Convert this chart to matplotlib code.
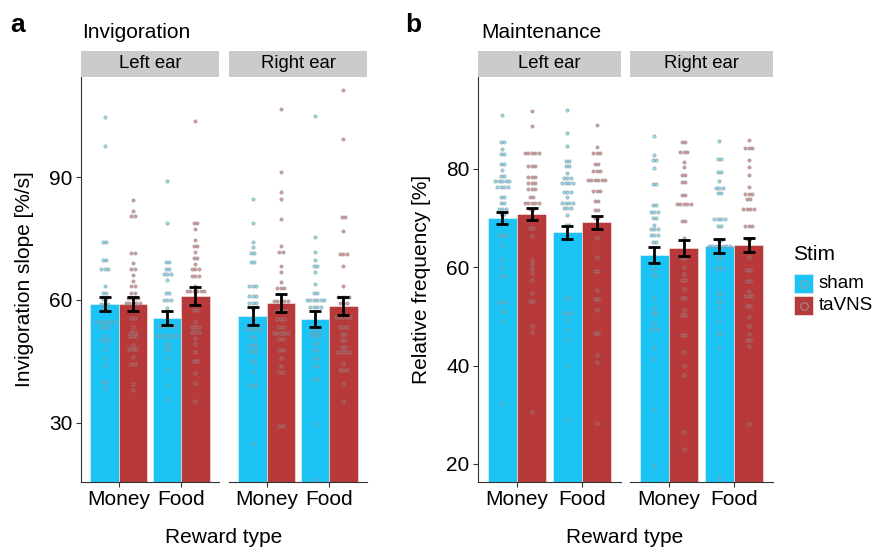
import matplotlib
matplotlib.use("Agg")
import matplotlib.pyplot as plt
from matplotlib.patches import Rectangle
from matplotlib.lines import Line2D
from matplotlib.colors import to_rgba

plt.rcParams["font.family"] = ["Liberation Sans", "DejaVu Sans"]

# ── Data ───────────────────────────────────────────────────────────────────
REWARDS = ["Money", "Food"]
EARS = ["Left ear", "Right ear"]
STIMS = ["sham", "taVNS"]

# group order within an ear: Money-sham, Money-taVNS, Food-sham, Food-taVNS
INV_MEAN = [[59.0, 59.0, 55.5, 61.0], [56.1, 59.2, 55.4, 58.5]]
INV_SE = [[1.8, 1.8, 1.7, 2.1], [2.2, 2.25, 2.0, 2.2]]
MAINT_MEAN = [[70.0, 70.9, 67.1, 69.15], [62.5, 63.9, 64.3, 64.5]]
MAINT_SE = [[1.2, 1.2, 1.35, 1.35], [1.6, 1.6, 1.35, 1.45]]

# dot-plot bins: (value, number of participants in that bin)
INV_L_MONEY_SHAM = [(104.6, 1), (97.5, 1), (74.1, 2), (69.7, 2), (67.6, 3), (63.3, 1),
                    (61.8, 2), (60.2, 2), (59.0, 3), (58.0, 2), (54.6, 6), (53.3, 3),
                    (51.2, 1), (50.2, 3), (48.0, 1), (45.9, 1), (44.0, 1), (39.9, 2), (38.5, 1)]
INV_L_MONEY_TAVNS = [(84.5, 1), (81.7, 1), (80.5, 2), (71.5, 2), (69.1, 1), (67.6, 2),
                     (66.0, 1), (64.6, 1), (63.3, 2), (61.8, 2), (60.4, 4), (59.3, 5),
                     (55.6, 2), (53.3, 1), (52.2, 2), (51.1, 3), (49.0, 1), (48.0, 3),
                     (46.2, 1), (44.5, 2), (39.5, 1), (38.0, 1)]
INV_L_FOOD_SHAM = [(89.0, 1), (78.9, 1), (69.3, 2), (67.5, 2), (66.3, 3), (64.8, 1),
                   (61.8, 2), (59.9, 3), (58.1, 1), (53.7, 6), (51.1, 7), (49.2, 2),
                   (48.0, 2), (46.2, 1), (43.0, 1), (39.2, 1), (35.8, 1)]
INV_L_FOOD_TAVNS = [(103.7, 1), (78.9, 2), (77.4, 1), (74.6, 1), (73.2, 2), (71.6, 1),
                    (70.2, 2), (68.9, 1), (67.6, 3), (65.9, 3), (63.3, 1), (62.2, 6),
                    (57.6, 2), (54.6, 1), (53.5, 3), (52.1, 3), (50.7, 1), (49.2, 1),
                    (47.4, 1), (45.1, 2), (42.1, 1), (39.7, 1), (35.4, 1)]
INV_R_MONEY_SHAM = [(84.6, 1), (78.9, 1), (74.2, 1), (72.9, 1), (71.5, 2), (69.3, 2),
                    (63.3, 3), (60.9, 3), (59.3, 3), (57.9, 1), (52.9, 5), (50.9, 2),
                    (49.0, 3), (47.6, 3), (45.0, 2), (42.8, 1), (39.2, 3), (25.2, 1)]
INV_R_MONEY_TAVNS = [(106.6, 1), (91.2, 1), (86.3, 1), (84.6, 1), (79.7, 1), (73.2, 1),
                     (71.6, 2), (68.2, 1), (66.8, 1), (64.4, 1), (63.0, 3), (59.8, 5),
                     (57.4, 4), (55.3, 3), (53.4, 2), (52.0, 5), (50.4, 2), (47.8, 2),
                     (45.9, 1), (43.9, 1), (42.5, 2), (29.3, 2)]
INV_R_FOOD_SHAM = [(105.0, 1), (75.4, 1), (71.7, 1), (69.8, 1), (68.4, 2), (66.9, 1),
                   (64.0, 1), (61.6, 2), (59.9, 6), (58.2, 4), (53.5, 2), (52.2, 3),
                   (51.1, 3), (49.4, 2), (47.7, 2), (45.8, 2), (43.9, 2), (40.8, 2),
                   (29.8, 1), (16.1, 1)]
INV_R_FOOD_TAVNS = [(111.3, 1), (99.2, 1), (80.2, 2), (76.8, 1), (71.1, 3), (68.4, 1),
                    (63.3, 1), (60.7, 4), (59.3, 3), (55.8, 5), (53.3, 3), (51.7, 2),
                    (50.3, 2), (48.6, 2), (47.3, 4), (44.4, 1), (42.9, 3), (39.4, 1), (35.4, 1)]

MAINT_L_MONEY_SHAM = [(90.9, 1), (85.4, 2), (84.1, 1), (83.1, 2), (81.0, 2), (79.8, 1),
                      (78.6, 2), (77.5, 5), (76.4, 4), (74.2, 2), (73.0, 2), (71.9, 3),
                      (70.8, 2), (66.5, 3), (64.6, 1), (61.7, 1), (59.8, 1), (58.3, 2),
                      (52.9, 3), (51.0, 2), (49.1, 1), (32.2, 1)]
MAINT_L_MONEY_TAVNS = [(91.8, 1), (88.8, 1), (83.3, 5), (80.6, 3), (78.4, 3), (77.1, 3),
                       (75.9, 3), (74.2, 2), (73.1, 5), (71.9, 2), (68.0, 2), (66.3, 1),
                       (61.5, 1), (60.6, 1), (59.7, 1), (58.9, 1), (57.4, 1), (54.7, 1),
                       (53.1, 2), (48.1, 1), (46.8, 1), (30.5, 1)]
MAINT_L_FOOD_SHAM = [(92.0, 1), (87.3, 1), (84.6, 1), (81.7, 2), (80.5, 2), (79.2, 1),
                     (78.2, 3), (77.1, 4), (75.3, 3), (74.2, 1), (73.1, 4), (72.0, 3),
                     (70.6, 1), (68.5, 2), (53.7, 2), (50.6, 3), (49.2, 1), (47.2, 1),
                     (45.3, 1), (40.0, 1), (28.9, 1)]
MAINT_L_FOOD_TAVNS = [(88.9, 1), (84.5, 1), (83.3, 3), (81.1, 2), (79.5, 3), (77.8, 6),
                      (75.6, 3), (73.4, 2), (71.7, 2), (70.1, 2), (65.9, 1), (62.1, 1),
                      (59.2, 2), (55.3, 1), (53.5, 2), (51.2, 1), (46.6, 2), (42.1, 1),
                      (40.8, 1), (28.4, 1)]
MAINT_R_MONEY_SHAM = [(86.6, 1), (82.8, 1), (81.8, 2), (80.1, 1), (76.9, 2), (72.7, 2),
                      (71.3, 3), (70.0, 2), (68.6, 1), (67.7, 3), (66.6, 3), (65.1, 2),
                      (59.7, 1), (58.5, 2), (53.8, 1), (51.6, 1), (50.6, 2), (48.7, 1),
                      (47.4, 3), (43.7, 1), (41.3, 1), (31.2, 1), (19.6, 1)]
MAINT_R_MONEY_TAVNS = [(85.4, 2), (83.4, 3), (81.4, 1), (80.3, 1), (78.8, 2), (77.3, 2),
                       (74.6, 2), (72.9, 5), (69.4, 2), (66.0, 1), (61.8, 2), (60.0, 1),
                       (58.7, 1), (57.4, 2), (55.6, 1), (53.7, 2), (51.2, 1), (50.2, 2),
                       (46.2, 2), (42.8, 1), (40.0, 1), (38.0, 1), (26.5, 1), (23.0, 1)]
MAINT_R_FOOD_SHAM = [(85.7, 1), (82.1, 2), (79.3, 2), (77.5, 1), (76.1, 3), (75.1, 2),
                     (69.8, 4), (68.4, 2), (65.6, 2), (64.4, 7), (61.8, 2), (59.9, 3),
                     (54.7, 2), (53.1, 2), (51.8, 1), (49.1, 1), (46.6, 2), (43.5, 1), (17.4, 1)]
MAINT_R_FOOD_TAVNS = [(85.9, 1), (84.2, 3), (81.8, 1), (80.3, 1), (78.8, 1), (76.4, 1),
                      (74.8, 3), (73.8, 2), (71.9, 4), (68.3, 3), (65.7, 2), (62.0, 1),
                      (59.4, 2), (57.2, 2), (55.2, 1), (54.2, 3), (52.2, 2), (49.9, 1),
                      (48.0, 1), (46.4, 1), (45.1, 2), (44.0, 1), (28.2, 1)]

INV_DOTS = [[INV_L_MONEY_SHAM, INV_L_MONEY_TAVNS, INV_L_FOOD_SHAM, INV_L_FOOD_TAVNS],
            [INV_R_MONEY_SHAM, INV_R_MONEY_TAVNS, INV_R_FOOD_SHAM, INV_R_FOOD_TAVNS]]
MAINT_DOTS = [[MAINT_L_MONEY_SHAM, MAINT_L_MONEY_TAVNS, MAINT_L_FOOD_SHAM, MAINT_L_FOOD_TAVNS],
              [MAINT_R_MONEY_SHAM, MAINT_R_MONEY_TAVNS, MAINT_R_FOOD_SHAM, MAINT_R_FOOD_TAVNS]]

# ── Style ──────────────────────────────────────────────────────────────────
COLORS = ["#1CC4F6", "#B7393A"]
AXIS_COLOR = "#333333"
STRIP_COLOR = "#CBCBCB"
BAR_W = 0.45
DOT_STEP_PX = 3.5   # horizontal distance between stacked dots

W, H = 875, 547
fig = plt.figure(figsize=(W / 100, H / 100), dpi=100)


def fx(px):
    return px / W


def fy(py):
    return 1 - py / H


def add_facet(x0, x1, y0=77, y1=482):
    return fig.add_axes([fx(x0), fy(y1), fx(x1 - x0), (y1 - y0) / H])


def draw_facet(ax, means, ses, dots, ylim, yticks, first):
    ax.set_xlim(0.4, 2.6)
    ax.set_ylim(*ylim)
    width_px = ax.get_position().width * W
    dstep = DOT_STEP_PX / (width_px / 2.2)
    for ri in range(len(REWARDS)):
        for si in range(len(STIMS)):
            k = ri * 2 + si
            x = ri + 1 + (si - 0.5) * BAR_W
            ax.bar(x, means[k], width=BAR_W, color=COLORS[si],
                   edgecolor="#f4f4f4", linewidth=0.4, zorder=1)
            xs, ys = [], []
            for val, n in dots[k]:
                for j in range(n):
                    xs.append(x + (j - (n - 1) / 2) * dstep)
                    ys.append(val)
            ax.scatter(xs, ys, s=5.5, marker="o",
                       facecolors=[to_rgba(COLORS[si], 0.5)],
                       edgecolors=[to_rgba("#949494", 0.75)],
                       linewidths=0.55, zorder=2)
            ax.errorbar(x, means[k], yerr=ses[k], fmt="none", ecolor="black",
                        elinewidth=2.0, capsize=4.5, capthick=2.0, zorder=3)
    ax.set_xticks([1, 2])
    ax.set_xticklabels(REWARDS)
    ax.set_yticks(yticks)
    for side in ["top", "right"]:
        ax.spines[side].set_visible(False)
    ax.spines["bottom"].set_color(AXIS_COLOR)
    ax.spines["bottom"].set_linewidth(0.8)
    ax.spines["left"].set_color(AXIS_COLOR)
    ax.spines["left"].set_linewidth(0.8)
    ax.tick_params(axis="both", colors=AXIS_COLOR, labelcolor="black",
                   labelsize=15, length=3.6, width=0.8, pad=2.5)
    if not first:
        ax.spines["left"].set_visible(False)
        ax.tick_params(axis="y", left=False, labelleft=False)
    ax.patch.set_alpha(0)


def strip(x0, x1, label):
    fig.patches.append(Rectangle((fx(x0), fy(77)), fx(x1 - x0), 26 / H,
                                 transform=fig.transFigure, facecolor=STRIP_COLOR,
                                 edgecolor="none"))
    fig.text(fx((x0 + x1) / 2), fy(64), label, ha="center", va="center", fontsize=13.3)


# ── Panel a: Invigoration ──────────────────────────────────────────────────
a_facets = [(81, 219), (229, 367)]
for ei, (x0, x1) in enumerate(a_facets):
    ax = add_facet(x0, x1)
    draw_facet(ax, INV_MEAN[ei], INV_SE[ei], INV_DOTS[ei], (15.6, 114.4), [30, 60, 90], ei == 0)
    strip(x0, x1, EARS[ei])
    if ei == 0:
        ax.set_ylabel("Invigoration slope [%/s]", fontsize=15, labelpad=11)

# ── Panel b: Maintenance ───────────────────────────────────────────────────
b_facets = [(478, 621), (630, 773)]
for ei, (x0, x1) in enumerate(b_facets):
    ax = add_facet(x0, x1)
    draw_facet(ax, MAINT_MEAN[ei], MAINT_SE[ei], MAINT_DOTS[ei], (16.3, 98.7), [20, 40, 60, 80], ei == 0)
    strip(x0, x1, EARS[ei])
    if ei == 0:
        ax.set_ylabel("Relative frequency [%]", fontsize=15, labelpad=11)

# ── Titles, panel letters, x labels ────────────────────────────────────────
fig.text(fx(10), fy(25), "a", fontsize=19, fontweight="bold", va="center")
fig.text(fx(405), fy(25), "b", fontsize=19, fontweight="bold", va="center")
fig.text(fx(82), fy(32), "Invigoration", fontsize=15, va="center")
fig.text(fx(481), fy(32), "Maintenance", fontsize=15, va="center")
fig.text(fx(224), fy(528), "Reward type", fontsize=15, ha="center", va="top")
fig.text(fx(625), fy(528), "Reward type", fontsize=15, ha="center", va="top")

# ── Legend ──────────────────────────────────────────────────────────────────
fig.text(fx(793), fy(255), "Stim", fontsize=15, va="center")
for si, stim in enumerate(STIMS):
    ytop = 274 + si * 22
    fig.patches.append(Rectangle((fx(794), fy(ytop + 19)), fx(19), 19 / H,
                                 transform=fig.transFigure, facecolor=COLORS[si],
                                 edgecolor="#eeeeee", linewidth=0.5))
    fig.add_artist(Line2D([fx(803.5)], [fy(ytop + 9.5)], marker="o", markersize=5.5,
                          markerfacecolor="none", markeredgecolor="#9a9a9a",
                          markeredgewidth=0.7, transform=fig.transFigure))
    fig.text(fx(819), fy(ytop + 9.5), stim, fontsize=13.5, va="center")

fig.savefig("out.png", dpi=100)
